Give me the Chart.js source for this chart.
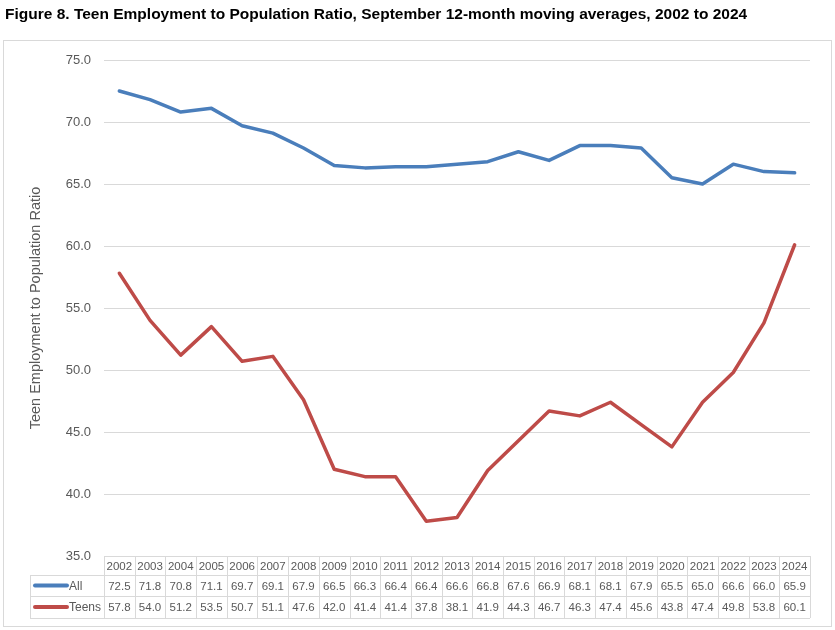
<!DOCTYPE html>
<html>
<head>
<meta charset="utf-8">
<script src="https://cdn.jsdelivr.net/npm/chart.js@4"></script>
<style>
html,body{margin:0;padding:0;background:#fff;}
#wrap{position:relative;width:835px;height:630px;}
</style>
</head>
<body>
<div id="wrap"><canvas id="c" width="835" height="630"></canvas></div>
<script>
const titleText = "Figure 8. Teen Employment to Population Ratio, September 12-month moving averages, 2002 to 2024";
const yAxisTitle = "Teen Employment to Population Ratio";
const years = ["2002","2003","2004","2005","2006","2007","2008","2009","2010","2011","2012","2013","2014","2015","2016","2017","2018","2019","2020","2021","2022","2023","2024"];
const allValues = [72.5,71.8,70.8,71.1,69.7,69.1,67.9,66.5,66.3,66.4,66.4,66.6,66.8,67.6,66.9,68.1,68.1,67.9,65.5,65.0,66.6,66.0,65.9];
const teenValues = [57.8,54.0,51.2,53.5,50.7,51.1,47.6,42.0,41.4,41.4,37.8,38.1,41.9,44.3,46.7,46.3,47.4,45.6,43.8,47.4,49.8,53.8,60.1];
const seriesNames = ["All","Teens"];
const seriesColors = ["#4A7EBB","#BE4B48"];

const FONT = "'Liberation Sans', Arial, sans-serif";
const GRID = "#d9d9d9";
const TXT = "#595959";

const tablePlugin = {
  id: 'tablePlugin',
  afterDraw(chart) {
    const ctx = chart.ctx;
    const x = chart.scales.x;
    const area = chart.chartArea;
    const n = years.length;
    const w = (area.right - area.left) / n;
    const rowTop = area.bottom;
    const rows = [rowTop, rowTop + 19, rowTop + 40, rowTop + 62];
    const legendLeft = 30;
    ctx.save();
    // outer border
    ctx.strokeStyle = GRID;
    ctx.lineWidth = 1;
    ctx.strokeRect(3.5, 40.5, 828, 586);
    // title
    ctx.fillStyle = "#000";
    ctx.font = "bold 15.5px " + FONT;
    ctx.textBaseline = "middle";
    ctx.textAlign = "left";
    ctx.fillText(titleText, 5, 15);
    // table lines
    ctx.strokeStyle = GRID;
    ctx.beginPath();
    ctx.moveTo(area.left, Math.round(rows[0]) + 0.5);
    ctx.lineTo(area.right, Math.round(rows[0]) + 0.5);
    for (let r = 1; r < 4; r++) {
      ctx.moveTo(legendLeft, Math.round(rows[r]) + 0.5);
      ctx.lineTo(area.right, Math.round(rows[r]) + 0.5);
    }
    for (let i = 0; i <= n; i++) {
      const xx = Math.round(x.getPixelForValue(i) - w / 2) + 0.5;
      ctx.moveTo(xx, rows[0]);
      ctx.lineTo(xx, rows[3]);
    }
    ctx.moveTo(legendLeft + 0.5, rows[1]);
    ctx.lineTo(legendLeft + 0.5, rows[3]);
    ctx.stroke();
    // text
    ctx.fillStyle = TXT;
    ctx.font = "11.5px " + FONT;
    ctx.textAlign = "center";
    const data = [allValues, teenValues];
    for (let i = 0; i < n; i++) {
      const cx = x.getPixelForValue(i);
      ctx.fillText(years[i], cx, (rows[0] + rows[1]) / 2 + 1);
      for (let s = 0; s < 2; s++) {
        ctx.fillText(data[s][i].toFixed(1), cx, (rows[s + 1] + rows[s + 2]) / 2 + 1);
      }
    }
    // legend keys
    for (let s = 0; s < 2; s++) {
      const cy = (rows[s + 1] + rows[s + 2]) / 2;
      ctx.strokeStyle = seriesColors[s];
      ctx.lineWidth = 4;
      ctx.lineCap = "round";
      ctx.beginPath();
      ctx.moveTo(35, cy);
      ctx.lineTo(67, cy);
      ctx.stroke();
      ctx.fillStyle = TXT;
      ctx.textAlign = "left";
      ctx.font = "12px " + FONT;
      ctx.fillText(seriesNames[s], 69, cy + 1);
    }
    ctx.restore();
  }
};

new Chart(document.getElementById('c'), {
  type: 'line',
  data: {
    labels: years,
    datasets: [
      { label: seriesNames[0], data: allValues, borderColor: seriesColors[0], backgroundColor: seriesColors[0],
        borderWidth: 3.5, pointRadius: 0, tension: 0, borderJoinStyle: 'round', borderCapStyle: 'round' },
      { label: seriesNames[1], data: teenValues, borderColor: seriesColors[1], backgroundColor: seriesColors[1],
        borderWidth: 3.5, pointRadius: 0, tension: 0, borderJoinStyle: 'round', borderCapStyle: 'round' }
    ]
  },
  options: {
    responsive: false,
    animation: false,
    layout: { padding: { top: 60, left: 3, right: 25, bottom: 0 } },
    plugins: { legend: { display: false }, title: { display: false }, tooltip: { enabled: false } },
    scales: {
      x: {
        offset: true,
        grid: { display: false, drawTicks: false },
        border: { display: false },
        ticks: { display: false },
        afterFit(scale) { scale.height = 74; }
      },
      y: {
        min: 35, max: 75,
        ticks: { stepSize: 5, padding: 13, color: TXT, font: { family: FONT, size: 13 },
                 callback: v => Number(v).toFixed(1) },
        grid: { color: GRID, drawTicks: false, tickLength: 0 },
        border: { display: false },
        title: { display: true, text: yAxisTitle, color: TXT, font: { family: FONT, size: 14.5 }, padding: { top: 24, bottom: 0 } },
        afterFit(scale) { scale.width = 101; }
      }
    }
  },
  plugins: [tablePlugin]
});
</script>
</body>
</html>
